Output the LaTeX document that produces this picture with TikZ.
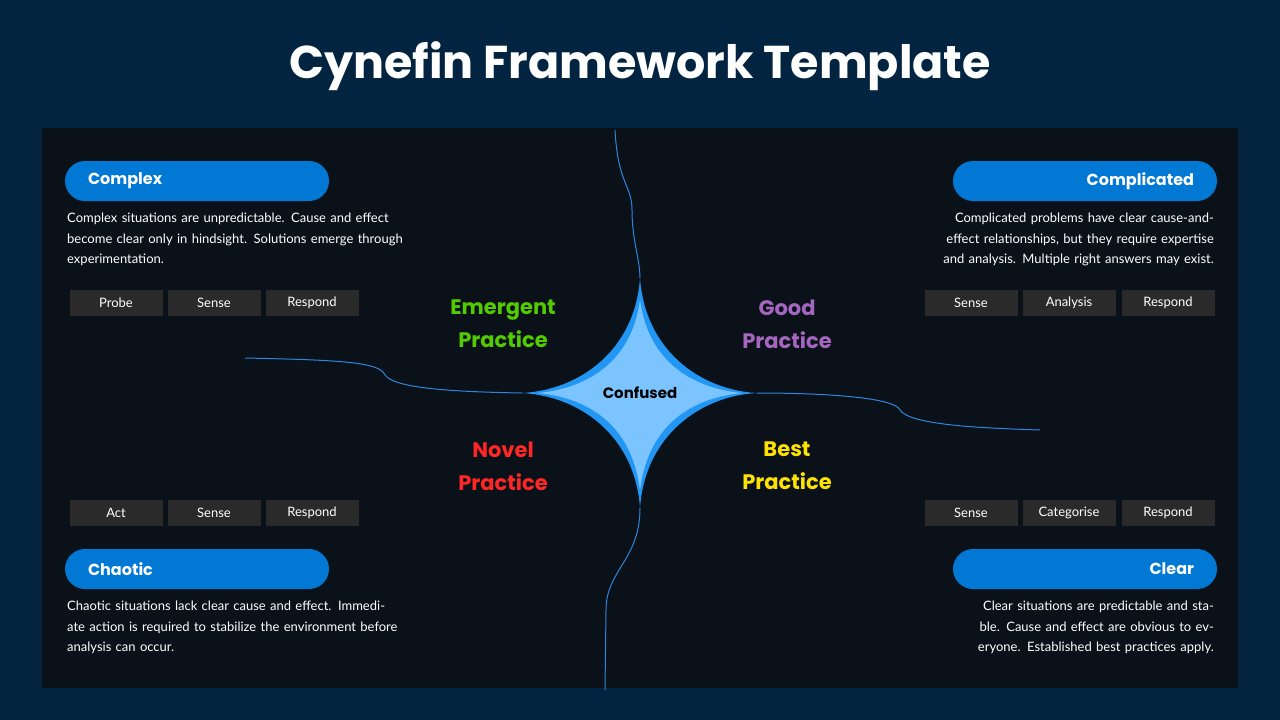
\documentclass[tikz,border=0pt]{standalone}
\usepackage{fontspec}
\setmainfont{Lato}
\newfontfamily\headfont{Poppins}
\usetikzlibrary{positioning}
\definecolor{bgblue}{HTML}{022440}
\definecolor{panel}{HTML}{0A1119}
\definecolor{pill}{HTML}{0078D4}
\definecolor{tag}{HTML}{2A2A2A}
\definecolor{starout}{HTML}{2196F3}
\definecolor{starin}{HTML}{7CC4FF}
\definecolor{lineblue}{HTML}{2E86DE}
\tikzset{pillbox/.style={fill=pill,rounded corners=20pt,minimum width=264pt,minimum height=40pt,inner xsep=23pt,
		text=white,font=\headfont\fontsize{16}{18}\selectfont\bfseries},
	tagbox/.style={fill=tag,minimum width=93pt,minimum height=26pt,inner sep=0pt,text=white,font=\fontsize{13}{15}\selectfont},
	desc/.style={text=white,font=\fontsize{13}{20.5}\selectfont,text width=340pt,inner sep=0pt},
	practice/.style={font=\headfont\fontsize{21}{33}\selectfont\bfseries,align=center},
	split/.style={lineblue,line width=1pt}}

\begin{document}
\begin{tikzpicture}[x=1pt,y=-1pt]
	\fill[bgblue] (0,0) rectangle (1280,720);
	\fill[panel] (42,128) rectangle (1238,688);
	\node[text=white,font=\headfont\fontsize{46}{50}\selectfont\bfseries] (title) at (640,66) {Cynefin Framework Template};

	% boundaries
	\coordinate (top) at (640,278);
	\coordinate (bot) at (640,508);
	\coordinate (lft) at (522,393);
	\coordinate (rgt) at (757,393);
	\draw[split] (615,130) .. controls (618,185) and (632,185) .. (632,210) .. controls (632,240) and (640,260) .. (top);
	\draw[split] (bot) .. controls (640,560) and (606,570) .. (606,610) -- (605,690);
	\draw[split] (245,358) .. controls (340,360) and (380,362) .. (385,375) .. controls (395,390) and (470,392) .. (lft);
	\draw[split] (rgt) .. controls (830,393) and (895,398) .. (900,410) .. controls (910,425) and (980,428) .. (1040,430);

	% star
	\fill[starout] (top) .. controls (645,350) and (700,390) .. (rgt) .. controls (700,396) and (645,436) .. (bot)
		.. controls (635,436) and (580,396) .. (lft) .. controls (580,390) and (635,350) .. cycle;
	\fill[starin] (640,300) .. controls (648,360) and (690,388) .. (742,393) .. controls (690,398) and (648,426) .. (640,490)
		.. controls (632,426) and (590,398) .. (538,393) .. controls (590,388) and (632,360) .. cycle;
	\node[font=\headfont\fontsize{15}{17}\selectfont\bfseries,text=black] (confused) at (640,393) {Confused};

	\node[practice,text=green!60!yellow!80!black] (emergent) at (503,324) {Emergent\\Practice};
	\node[practice,text=blue!45!purple!60!white] (good) at (787,324) {Good\\Practice};
	\node[practice,text=red!80!pink] (novel) at (503,466) {Novel\\Practice};
	\node[practice,text=yellow!85!orange] (best) at (787,466) {Best\\Practice};

	% domains
	\node[pillbox,text width=218pt,align=left] (complex) at (197,181) {Complex};
	\node[pillbox,text width=218pt,align=right] (complicated) at (1085,181) {Complicated};
	\node[pillbox,text width=218pt,align=left] (chaotic) at (197,569) {Chaotic};
	\node[pillbox,text width=218pt,align=right] (clear) at (1085,569) {Clear};

	\node[desc,anchor=north west,align=left] (complexdesc) at (67,213) {Complex situations are unpredictable. Cause and effect become clear only in hindsight. Solutions emerge through experimentation.};
	\node[desc,anchor=north east,align=right] (complicateddesc) at (1214,213) {Complicated problems have clear cause-and-effect relationships, but they require expertise and analysis. Multiple right answers may exist.};
	\node[desc,anchor=north west,align=left] (chaoticdesc) at (67,601) {Chaotic situations lack clear cause and effect. Immediate action is required to stabilize the environment before analysis can occur.};
	\node[desc,anchor=north east,align=right] (cleardesc) at (1214,601) {Clear situations are predictable and stable. Cause and effect are obvious to everyone. Established best practices apply.};

	% tags
	\foreach \x/\t [count=\i] in {116/Probe,214/Sense,312/Respond}
		\node[tagbox] (complextag\i) at (\x,303) {\t};
	\foreach \x/\t [count=\i] in {971/Sense,1069/Analysis,1168/Respond}
		\node[tagbox] (complicatedtag\i) at (\x,303) {\t};
	\foreach \x/\t [count=\i] in {116/Act,214/Sense,312/Respond}
		\node[tagbox] (chaotictag\i) at (\x,513) {\t};
	\foreach \x/\t [count=\i] in {971/Sense,1069/Categorise,1168/Respond}
		\node[tagbox] (cleartag\i) at (\x,513) {\t};
\end{tikzpicture}
\end{document}
